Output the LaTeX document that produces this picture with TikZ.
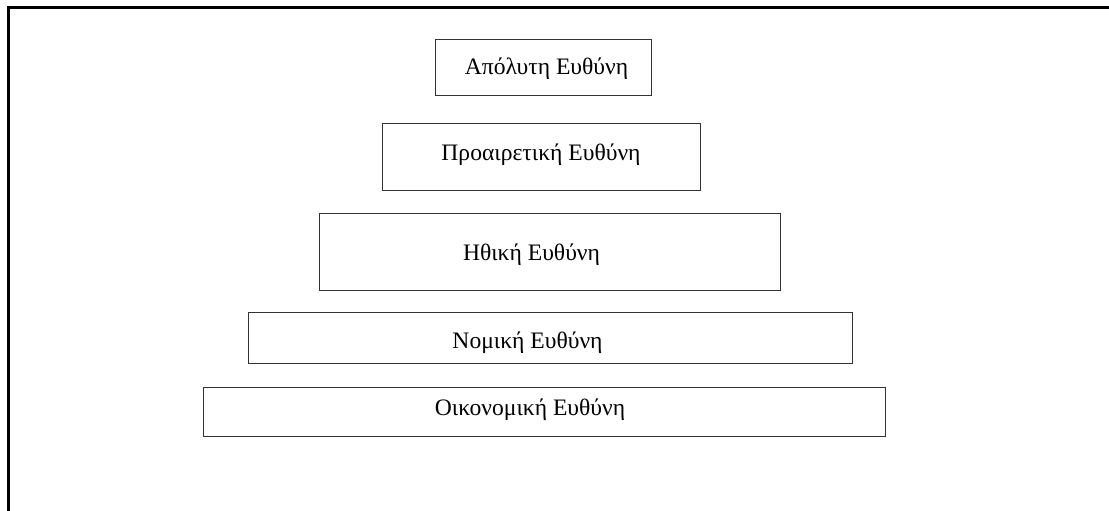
\documentclass[tikz,border=0pt]{standalone}
\usepackage{fontspec}
\setmainfont{Liberation Serif}
\begin{document}
\begin{tikzpicture}[x=1pt,y=-1pt,
  layer/.style={draw=black!80,line width=1pt,inner sep=0pt,fill=none},
  lbl/.style={anchor=base,inner sep=0pt,font=\fontsize{23.6}{26}\selectfont}]
\useasboundingbox (0,0) rectangle (1109,511);
% outer frame (open on right and bottom)
\coordinate (fb) at (8.5,511);
\coordinate (fc) at (8.5,7.5);
\coordinate (fr) at (1109,7.5);
\draw[line width=2.4pt] (fb) -- (fc) -- (fr);
% layers
\node[layer,minimum width=216pt,minimum height=56pt] (b1) at (543,68) {};
\node[layer,minimum width=318pt,minimum height=67pt] (b2) at (541,156.5) {};
\node[layer,minimum width=461pt,minimum height=77pt] (b3) at (549.5,251.5) {};
\node[layer,minimum width=604pt,minimum height=51pt] (b4) at (550,337.5) {};
\node[layer,minimum width=682pt,minimum height=49pt] (b5) at (544,411.5) {};
\node[lbl] (t1) at (546.5,75) {Απόλυτη Ευθύνη};
\node[lbl] (t2) at (541,160) {Προαιρετική Ευθύνη};
\node[lbl] (t3) at (531.5,260) {Ηθική Ευθύνη};
\node[lbl] (t4) at (527.5,348) {Νομική Ευθύνη};
\node[lbl] (t5) at (530,415) {Οικονομική Ευθύνη};
\end{tikzpicture}
\end{document}
